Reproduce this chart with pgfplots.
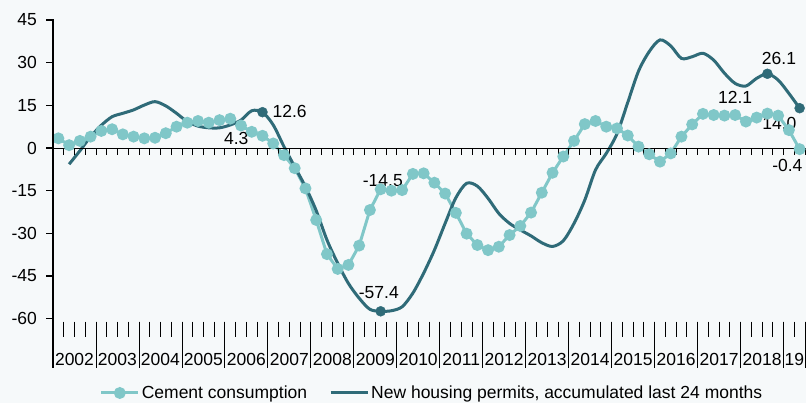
\documentclass[border=0pt]{standalone}
\usepackage{fontspec}
\setmainfont{Liberation Sans}
\usepackage{pgfplots}
\pgfplotsset{compat=1.18}
\definecolor{cem}{RGB}{128,199,200}
\definecolor{perm}{RGB}{47,107,120}
\definecolor{bg}{RGB}{246,249,250}
\newcommand{\cf}{\fontsize{17.5bp}{21bp}\selectfont}
\begin{document}
\begin{tikzpicture}
\fill[bg] (0,0) rectangle (806bp,403bp);
\useasboundingbox (0,0) rectangle (806bp,403bp);
\begin{axis}[
  at={(53bp,84.3bp)}, anchor=south west,
  scale only axis, width=752bp, height=298.7bp,
  xmin=-0.5, xmax=69.5, ymin=-60, ymax=45,
  clip=false,
  hide axis,
  legend style={at={(0.504,-0.2487)}, anchor=center, draw=none, fill=none,
    legend columns=2, font=\cf, text=black,
    /tikz/every even column/.append style={column sep=20bp},
    nodes={inner sep=2bp}},
  legend cell align=left,
  legend image code/.code={\draw[mark repeat=2,mark phase=2,#1] plot coordinates {(0bp,0bp) (18.5bp,0bp) (37bp,0bp)};},
]
\addplot[cem, line width=3bp, mark=*, mark size=4.4bp, mark options={fill=cem, draw=none}] coordinates {
(0,3.4)(1,1.0)(2,2.5)(3,4.0)(4,6.0)(5,6.6)(6,4.8)(7,4.0)(8,3.4)(9,3.6)
(10,5.2)(11,7.5)(12,8.9)(13,9.5)(14,8.9)(15,9.8)(16,10.3)(17,7.9)(18,5.7)(19,4.3)
(20,1.6)(21,-2.5)(22,-7.1)(23,-14.2)(24,-25.3)(25,-37.3)(26,-42.5)(27,-41.1)(28,-34.3)(29,-21.8)
(30,-14.5)(31,-15.0)(32,-14.8)(33,-9.1)(34,-8.9)(35,-12.2)(36,-16.0)(37,-22.8)(38,-30.1)(39,-34.1)
(40,-35.9)(41,-34.7)(42,-30.6)(43,-27.4)(44,-22.7)(45,-15.7)(46,-8.7)(47,-3.0)(48,2.5)(49,8.4)
(50,9.5)(51,7.5)(52,6.9)(53,4.4)(54,0.5)(55,-2.2)(56,-4.8)(57,-1.9)(58,4.0)(59,8.3)
(60,12.0)(61,11.6)(62,11.4)(63,11.6)(64,9.3)(65,10.7)(66,12.1)(67,11.4)(68,6.3)(69,-0.4)
};
\addlegendentry{Cement consumption}
\addplot[perm, line width=3bp, smooth] coordinates {
(1,-5.7)(2,-1.0)(3,4.0)(4,8.0)(5,11.0)(6,12.2)(7,13.4)(8,15.1)(9,16.3)
(10,14.8)(11,12.2)(12,9.3)(13,7.7)(14,7.1)(15,7.1)(16,8.1)(17,9.8)(18,13.1)(19,12.6)
(20,8.1)(21,0.5)(22,-6.6)(23,-13.6)(24,-22.0)(25,-32.3)(26,-40.5)(27,-47.6)(28,-52.8)(29,-56.7)
(30,-57.4)(31,-57.2)(32,-55.8)(33,-51.0)(34,-44.0)(35,-35.9)(36,-26.5)(37,-17.5)(38,-12.4)(39,-13.4)
(40,-17.7)(41,-23.0)(42,-26.5)(43,-28.8)(44,-30.9)(45,-33.3)(46,-34.6)(47,-32.6)(48,-26.5)(49,-18.3)
(50,-7.7)(51,-1.9)(52,5.0)(53,16.0)(54,27.0)(55,33.9)(56,38.0)(57,35.9)(58,31.5)(59,32.1)
(60,33.3)(61,30.9)(62,26.3)(63,22.7)(64,21.8)(65,24.5)(66,26.1)(67,23.9)(68,19.2)(69,14.0)
};
\addlegendentry{New housing permits, accumulated last 24 months}
\addplot[perm, only marks, mark=*, mark size=5bp, mark options={draw=none, fill=perm}, forget plot] coordinates {(19,12.6)(30,-57.4)(66,26.1)(69,14.0)};
% zero line and ticks
\draw[line width=0.8bp] (axis cs:-0.5,0) -- (axis cs:69.5,0);
\pgfplotsinvokeforeach{-0.5,0.5,...,69.5}{\draw[line width=0.8bp] (axis cs:#1,0) -- ++(0pt,-7bp);}
% bottom category ticks
\pgfplotsinvokeforeach{-0.5,0.5,...,69.5}{\draw[line width=0.8bp] (axis cs:#1,-60) ++(0pt,-3bp) -- ++(0pt,-15bp);}
\pgfplotsinvokeforeach{3.5,7.5,...,67.5}{\draw[line width=0.8bp] (axis cs:#1,-60) ++(0pt,-3bp) -- ++(0pt,-46bp);}
\draw[line width=0.8bp] (axis cs:69.5,-60) ++(0pt,-3bp) -- ++(0pt,-46bp);
% year labels
\begin{scope}[every node/.style={font=\cf, inner sep=0pt, anchor=center, yshift=-40.3bp}]
\node at (axis cs:1.5,-60) {2002};
\node at (axis cs:5.5,-60) {2003};
\node at (axis cs:9.5,-60) {2004};
\node at (axis cs:13.5,-60) {2005};
\node at (axis cs:17.5,-60) {2006};
\node at (axis cs:21.5,-60) {2007};
\node at (axis cs:25.5,-60) {2008};
\node at (axis cs:29.5,-60) {2009};
\node at (axis cs:33.5,-60) {2010};
\node at (axis cs:37.5,-60) {2011};
\node at (axis cs:41.5,-60) {2012};
\node at (axis cs:45.5,-60) {2013};
\node at (axis cs:49.5,-60) {2014};
\node at (axis cs:53.5,-60) {2015};
\node at (axis cs:57.5,-60) {2016};
\node at (axis cs:61.5,-60) {2017};
\node at (axis cs:65.5,-60) {2018};
\node at (axis cs:68.5,-60) {19};
\end{scope}
% data labels
\begin{scope}[every node/.style={font=\cf, inner sep=0pt}]
\node[anchor=west] at (axis cs:19.92,12.76) {12.6};
\node at (axis cs:16.56,3.41) {4.3};
\node at (axis cs:30.2,-11.6) {-14.5};
\node at (axis cs:29.83,-50.97) {-57.4};
\node at (axis cs:67.08,31.63) {26.1};
\node at (axis cs:62.99,17.75) {12.1};
\node at (axis cs:67.12,8.68) {14.0};
\node at (axis cs:67.86,-6.26) {-0.4};
\end{scope}
\end{axis}
% y axis drawn as filled strips in picture coordinates
\fill[black] (52.4bp,35.3bp) rectangle (53.6bp,383.5bp);
\foreach \v [count=\k from 0] in {-60,-45,-30,-15,0,15,30,45}{
  \pgfmathsetmacro\yy{84.3+\k*42.671}
  \fill[black] (46bp,\yy bp-0.6bp) rectangle (53bp,\yy bp+0.6bp);
  \node[anchor=east, inner sep=0pt, font=\cf] at (37bp,\yy bp) {\v};
}
\end{tikzpicture}
\end{document}
